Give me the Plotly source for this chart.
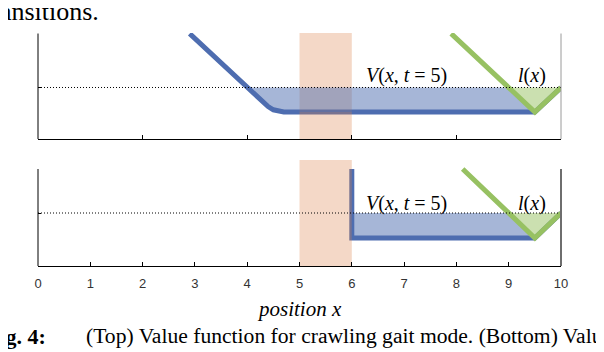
import plotly.graph_objects as go

# ── Data ─────────────────────────────────────────────────────────────────────
X_TICKS = list(range(0, 11))
THRESH = 0.5            # dotted level
BAND = [5.0, 6.0]       # shaded strip between x=5 and x=6

# Top: crawling gait mode
top_x = [2.9, 3.5, 4.0, 4.2, 4.3, 4.4, 4.5, 4.6, 4.7, 9.5, 10.0]
top_v = [1.6, 1.0, 0.5, 0.3, 0.2, 0.11, 0.045, 0.01, 0.0, 0.0, 0.5]
top_lx = [7.9, 9.5, 10.0]
top_l = [1.6, 0.0, 0.5]

# Bottom: second gait mode
bot_x = [6.0, 6.0, 9.5, 10.0]
bot_v = [1.38, 0.0, 0.0, 0.5]
bot_lx = [8.12, 9.5, 10.0]
bot_l = [1.38, 0.0, 0.5]

# ── Style ────────────────────────────────────────────────────────────────────
# the page body keeps its default 8px margin, so the figure is shrunk by it
OFF = 8
W, H = 604 - OFF, 352 - OFF
BLUE = "#4E6DB0"
BLUE_FILL = "rgba(78,109,176,0.5)"
GREEN = "#97C162"
GREEN_FILL = "rgba(151,193,98,0.5)"
BAND_FILL = "rgba(220,125,70,0.3)"
SERIF = "Liberation Serif"
SANS = "Liberation Sans"


def px(p):
    return (p - OFF) / W


def py(p):
    return 1 - (p - OFF) / H


X_DOM = [px(38), px(561)]
TOP_DOM = [py(139), py(33)]
BOT_DOM = [py(266), py(160)]
TOP_RANGE = [-0.551, 1.612]
BOT_RANGE = [-0.56, 1.56]


def below(xs, ys, level):
    """Part of a polyline lying under `level`, with the crossing points."""
    ox, oy = [], []
    for i in range(len(xs)):
        if i > 0 and (ys[i - 1] - level) * (ys[i] - level) < 0:
            t = (level - ys[i - 1]) / (ys[i] - ys[i - 1])
            ox.append(xs[i - 1] + t * (xs[i] - xs[i - 1]))
            oy.append(level)
        if ys[i] <= level:
            ox.append(xs[i])
            oy.append(ys[i])
    return ox, oy


def add_panel(fig, vx, vy, lx, ly, yrange, xa, ya):
    # value function line (under the band)
    fig.add_trace(go.Scatter(x=vx, y=vy, mode="lines",
                             line=dict(color=BLUE, width=5),
                             xaxis=xa, yaxis=ya, hoverinfo="skip"))
    # shaded strip
    fig.add_trace(go.Scatter(x=[BAND[0], BAND[1], BAND[1], BAND[0], BAND[0]],
                             y=[yrange[0], yrange[0], yrange[1], yrange[1], yrange[0]],
                             mode="lines", fill="toself", fillcolor=BAND_FILL,
                             line=dict(width=0), xaxis=xa, yaxis=ya, hoverinfo="skip"))
    # blue fill: V below the level, up to the target's left edge
    x_min = lx[ly.index(min(ly))]
    bx, by = below(vx, vy, THRESH)
    keep = [i for i in range(len(bx)) if bx[i] <= x_min]
    gx, gy = below(lx, ly, THRESH)
    fx = [bx[i] for i in keep] + [gx[0]]
    fy = [by[i] for i in keep] + [gy[0]]
    fig.add_trace(go.Scatter(x=fx + [fx[0]], y=fy + [fy[0]], mode="lines",
                             fill="toself", fillcolor=BLUE_FILL, line=dict(width=0),
                             xaxis=xa, yaxis=ya, hoverinfo="skip"))
    # green fill: target set
    fig.add_trace(go.Scatter(x=gx + [gx[0]], y=gy + [gy[0]], mode="lines",
                             fill="toself", fillcolor=GREEN_FILL, line=dict(width=0),
                             xaxis=xa, yaxis=ya, hoverinfo="skip"))
    fig.add_trace(go.Scatter(x=lx, y=ly, mode="lines",
                             line=dict(color=GREEN, width=5),
                             xaxis=xa, yaxis=ya, hoverinfo="skip"))
    fig.add_trace(go.Scatter(x=[X_TICKS[0], X_TICKS[-1]], y=[THRESH, THRESH], mode="lines",
                             line=dict(color="black", width=1, dash="1px,2px"),
                             xaxis=xa, yaxis=ya, hoverinfo="skip"))


fig = go.Figure()
add_panel(fig, top_x, top_v, top_lx, top_l, TOP_RANGE, "x", "y")
add_panel(fig, bot_x, bot_v, bot_lx, bot_l, BOT_RANGE, "x2", "y2")

x_common = dict(range=[X_TICKS[0], X_TICKS[-1]], domain=X_DOM, showgrid=False,
                zeroline=False, showline=True, linecolor="black", linewidth=1,
                ticks="inside", ticklen=4, tickcolor="black", automargin=False)
y_common = dict(showgrid=False, zeroline=False, showline=False, showticklabels=False,
                tickvals=[THRESH], ticks="inside", ticklen=3, tickcolor="black",
                automargin=False)

fig.update_layout(
    width=W, height=H,
    margin=dict(l=0, r=0, t=0, b=0, autoexpand=False),
    paper_bgcolor="white", plot_bgcolor="white",
    showlegend=False,
    xaxis=dict(**x_common, anchor="y", tickvals=X_TICKS[::2], showticklabels=False),
    yaxis=dict(**y_common, domain=TOP_DOM, range=TOP_RANGE, anchor="x"),
    xaxis2=dict(**x_common, anchor="y2", tickvals=X_TICKS,
                ticktext=[str(t) for t in X_TICKS], ticklabelstandoff=5,
                tickfont=dict(family=SANS, size=13, color="#333333")),
    yaxis2=dict(**y_common, domain=BOT_DOM, range=BOT_RANGE, anchor="x2"),
)

# frame lines (left black, right gray)
for xa, ya, top, rcol, rw in [("x", "y", 0.995, "#9A9A9A", 1), ("x2", "y2", 0.915, "#6E6E6E", 2)]:
    fig.add_shape(type="line", xref=f"{xa} domain", yref=f"{ya} domain",
                  x0=0, x1=0, y0=0, y1=top, line=dict(color="black", width=1))
    fig.add_shape(type="line", xref=f"{xa} domain", yref=f"{ya} domain",
                  x0=1, x1=1, y0=0, y1=top, line=dict(color=rcol, width=rw))

label_font = dict(family=SERIF, size=20, color="black")
for xa, ya, yl in [("x", "y", 0.755), ("x2", "y2", 0.70)]:
    fig.add_annotation(x=7.04, y=yl, xref=xa, yref=ya, showarrow=False,
                       text="<i>V</i>(<i>x</i>, <i>t</i> = 5)", font=label_font)
    fig.add_annotation(x=9.45, y=yl, xref=xa, yref=ya, showarrow=False,
                       text="<i>l</i>(<i>x</i>)", font=label_font)

fig.add_annotation(x=px(299), y=py(309), xref="paper", yref="paper", showarrow=False,
                   xanchor="center", yanchor="middle", text="<i>position x</i>",
                   font=dict(family=SERIF, size=21, color="black"))

# surrounding paper text
fig.add_annotation(x=px(101), y=py(11), xref="paper", yref="paper", showarrow=False,
                   xanchor="right", yanchor="middle", text="transitions.",
                   font=dict(family=SERIF, size=26, color="black"))
fig.add_annotation(x=px(48), y=py(336), xref="paper", yref="paper", showarrow=False,
                   xanchor="right", yanchor="middle", text="<b>Fig. 4:</b>",
                   font=dict(family=SERIF, size=22, color="black"))
fig.add_annotation(x=px(84), y=py(336), xref="paper", yref="paper", showarrow=False,
                   xanchor="left", yanchor="middle",
                   text="(Top) Value function for crawling gait mode. (Bottom) Value function for",
                   font=dict(family=SERIF, size=21.6, color="black"))

fig.write_html("out.html")
